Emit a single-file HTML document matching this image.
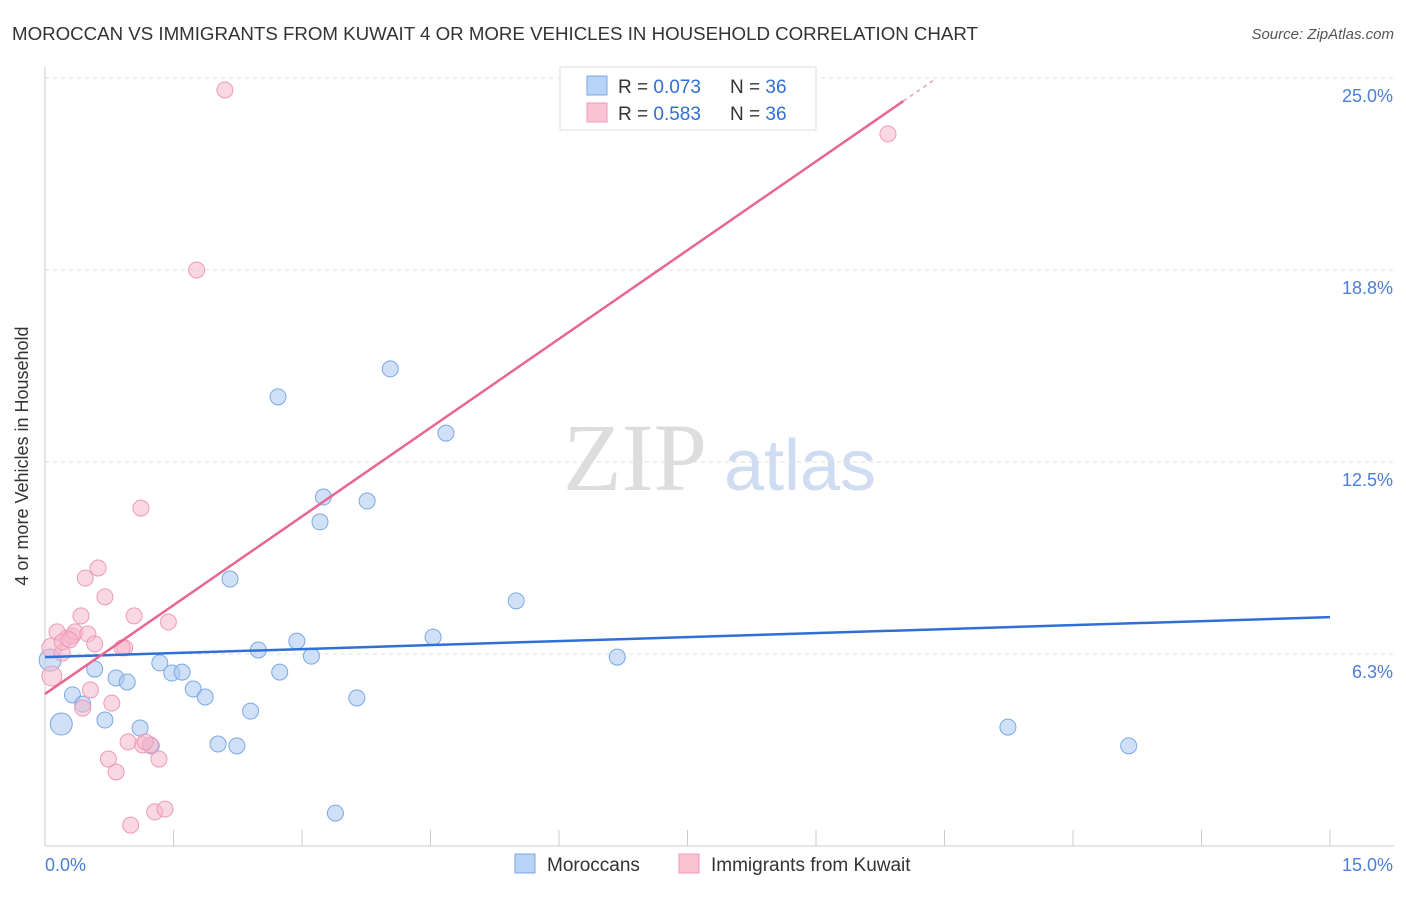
<!DOCTYPE html>
<html><head><meta charset="utf-8"><style>
body{margin:0;background:#fff;font-family:"Liberation Sans",sans-serif;}
svg text{font-family:"Liberation Sans",sans-serif;}
</style></head><body>
<svg id="chart" width="1406" height="892">
<text x="12" y="40" font-size="18.7" fill="#333">MOROCCAN VS IMMIGRANTS FROM KUWAIT 4 OR MORE VEHICLES IN HOUSEHOLD CORRELATION CHART</text>
<text x="1394" y="39" font-size="15" fill="#555" text-anchor="end" font-style="italic">Source: ZipAtlas.com</text>
<text x="28" y="456" font-size="18" fill="#333" text-anchor="middle" transform="rotate(-90 28 456)">4 or more Vehicles in Household</text>
<text x="635" y="490" font-size="96" fill="#ddd" text-anchor="middle" font-family="Liberation Serif" style="font-family:'Liberation Serif',serif">ZIP</text>
<text x="800" y="490" font-size="72" fill="#cfdcf2" text-anchor="middle">atlas</text>
<g id="grid"></g><g id="axes"></g><g id="marks"></g>
<g>
<rect x="560" y="67" width="256" height="63" fill="#fff" stroke="#ddd"/>
<rect x="587" y="76" width="20" height="19" fill="#b8d3f5" stroke="#7aa8e6"/>
<rect x="587" y="103" width="20" height="19" fill="#f9c3d4" stroke="#ee9ab6"/>
<text x="618" y="93" font-size="19" fill="#333">R = <tspan fill="#2f6fd6">0.073</tspan></text>
<text x="730" y="93" font-size="19" fill="#333">N = <tspan fill="#2f6fd6">36</tspan></text>
<text x="618" y="120" font-size="19" fill="#333">R = <tspan fill="#2f6fd6">0.583</tspan></text>
<text x="730" y="120" font-size="19" fill="#333">N = <tspan fill="#2f6fd6">36</tspan></text>
</g>
<g>
<rect x="515" y="854" width="20" height="19" fill="#b8d3f5" stroke="#7aa8e6"/>
<text x="547" y="871" font-size="19" fill="#333">Moroccans</text>
<rect x="679" y="854" width="20" height="19" fill="#f9c3d4" stroke="#ee9ab6"/>
<text x="711" y="871" font-size="19" fill="#333">Immigrants from Kuwait</text>
</g>
</svg>
<script>
const blueX=[0.06,0.19,0.32,0.44,0.58,0.70,0.83,0.96,1.11,1.24,1.34,1.48,1.60,1.73,1.87,2.02,2.24,2.16,2.40,2.49,2.72,2.74,2.94,3.11,3.21,3.25,3.39,3.64,3.76,4.03,4.53,4.68,5.50,6.68,11.24,12.65];
const blueY=[6.05,3.97,4.92,4.62,5.76,4.10,5.47,5.34,3.84,3.26,5.96,5.63,5.66,5.11,4.85,3.32,3.26,8.69,4.39,6.38,14.62,5.66,6.67,6.18,10.55,11.36,1.07,4.82,11.23,15.53,6.80,13.44,7.98,6.15,3.87,3.26];
const pinkX=[0.08,0.08,0.14,0.20,0.26,0.32,0.35,0.44,0.42,0.47,0.53,0.50,0.58,0.62,0.70,0.74,0.78,0.83,0.93,0.97,1.00,1.04,1.12,1.14,1.23,1.28,1.33,1.40,1.44,1.77,2.10,9.84,0.90,0.20,1.17,0.29];
const pinkY=[6.45,5.53,6.97,6.28,6.77,6.84,6.97,4.49,7.49,8.72,5.08,6.90,6.58,9.05,8.11,2.83,4.65,2.41,6.45,3.39,0.68,7.49,11.00,3.29,3.29,1.11,2.83,1.20,7.29,18.75,24.61,23.18,6.45,6.64,3.39,6.71];
const blueLine=[6.15,7.45];
const pinkLine=[4.95,1.926];
const yTicks=[6.25,12.5,18.75,25];
const yTickLabels=["6.3%","12.5%","18.8%","25.0%"];
const NS="http://www.w3.org/2000/svg";
const sx=v=>45+v/15*1285, sy=v=>846-v/6.25*192;
function mk(tag,attrs,parent){const e=document.createElementNS(NS,tag);for(const k in attrs)e.setAttribute(k,attrs[k]);document.getElementById(parent).appendChild(e);return e;}
yTicks.forEach((t,i)=>{
 const g=mk('line',{x1:45,x2:1394,y1:sy(t),y2:sy(t),stroke:'#ddd','stroke-dasharray':'4,4'},'grid');
 
 
 const l=mk('text',{x:1393,y:sy(t)+24,'font-size':18,fill:'#4a7fd4','text-anchor':'end'},'grid');
 l.textContent=yTickLabels[i];
 
 
});
mk('line',{x1:45,x2:45,y1:67,y2:846,stroke:'#ccc'},'axes');
mk('line',{x1:45,x2:1394,y1:846,y2:846,stroke:'#ccc'},'axes');
for(let i=0;i<=10;i++){mk('line',{x1:sx(i*1.5),x2:sx(i*1.5),y1:830,y2:846,stroke:'#ccc'},'axes');}
let t0=mk('text',{x:45,y:871,'font-size':18,fill:'#4a7fd4'},'axes');t0.textContent='0.0%';


let t1=mk('text',{x:1393,y:871,'font-size':18,fill:'#4a7fd4','text-anchor':'end'},'axes');t1.textContent='15.0%';


blueX.forEach((x,i)=>{
 const c=mk('circle',{cx:sx(x),cy:sy(blueY[i]),r:i<2?11:8,fill:'rgba(169,200,240,0.55)',stroke:'#7aa8e6','stroke-width':1},'marks');
 
 
});
pinkX.forEach((x,i)=>{
 const c=mk('circle',{cx:sx(x),cy:sy(pinkY[i]),r:i<2?10:8,fill:'rgba(245,184,204,0.55)',stroke:'#ee9ab6','stroke-width':1},'marks');
 
 
});
const bl=mk('line',{x1:sx(0),y1:sy(blueLine[0]),x2:sx(15),y2:sy(blueLine[1]),stroke:'#2f6fd6','stroke-width':2.5},'marks');


const pf=x=>pinkLine[0]+pinkLine[1]*x;
const pl=mk('line',{x1:sx(0),y1:sy(pf(0)),x2:sx(10.02),y2:sy(pf(10.02)),stroke:'#e8668f','stroke-width':2.5},'marks');


const pd=mk('line',{x1:sx(10.02),y1:sy(pf(10.02)),x2:sx(10.4),y2:sy(pf(10.4)),stroke:'#f0a0b8','stroke-width':1.5,'stroke-dasharray':'4,4'},'marks');


</script>
</body></html>
